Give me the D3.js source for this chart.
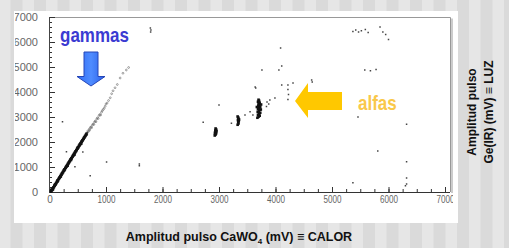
<!DOCTYPE html>
<html>
<head>
<meta charset="utf-8">
<script src="https://cdn.jsdelivr.net/npm/d3@7"></script>
<style>
  body { margin: 0; overflow: hidden; background: #e6e6e6; }
  svg { display: block; font-family: "Liberation Sans", Arial, sans-serif; }
</style>
</head>
<body>
<svg id="chart" width="509" height="248"></svg>
<script>
// tick labels
const xTicks = [0, 1000, 2000, 3000, 4000, 5000, 6000, 7000];
const yTicks = [0, 1000, 2000, 3000, 4000, 5000, 6000, 7000];

// gamma band, dense part (CaWO4 mV, Ge mV)
const gammaDense = [
  [25,20],[32,30],[40,80],[48,85],[55,135],[62,140],[70,190],[78,195],[85,245],[92,250],
  [100,300],[108,305],[115,355],[122,360],[130,410],[138,415],[145,470],[152,465],[160,520],[168,530],
  [175,575],[182,580],[190,630],[198,640],[205,685],[212,690],[220,745],[228,750],[235,795],[242,800],
  [250,850],[258,860],[265,905],[272,910],[280,960],[288,970],[295,1015],[302,1020],[310,1070],[318,1080],
  [325,1125],[332,1130],[340,1180],[348,1190],[355,1235],[362,1240],[370,1295],[378,1300],[385,1345],[392,1350],
  [400,1400],[408,1410],[415,1455],[422,1460],[430,1515],[438,1520],[445,1565],[452,1570],[460,1625],[468,1630],
  [475,1675],[482,1680],[490,1735],[498,1740],[505,1785],[512,1795],[520,1845],[528,1850],[535,1900],[542,1905],
  [550,1950],[558,1960],[565,2010],[572,2015],[580,2060],[588,2070],[596,2120],[604,2125],[612,2175],[620,2190],
  [628,2235],[636,2245],[645,2290],[652,2300],[660,2345],
  [30,70],[60,100],[95,280],[140,440],[200,620],[260,880],[320,1050],[380,1280],[440,1490],[500,1770],[560,1930]
];

// gamma band, sparse tail
const gammaSparse = [
  [672,2390],[680,2450],[694,2430],[705,2520],[712,2480],[725,2580],[738,2610],[745,2570],[760,2680],[772,2720],
  [785,2700],[796,2800],[810,2840],[822,2810],[835,2920],[850,2970],[862,2940],[878,3060],[890,3100],[905,3080],
  [920,3190],[935,3250],[950,3300],[968,3350],[985,3430],[1000,3520],[1020,3560],[1045,3660],[1075,3770],[1100,3930],
  [1125,4050],[1160,4170],[1200,4300],[1250,4560],[1300,4750],[1360,4880],[1400,4980]
];

// alpha clusters
const alphaClusters = [
  [2925,2260],[2940,2300],[2950,2350],[2930,2380],[2945,2420],[2935,2460],[2950,2500],[2940,2540],[2930,2330],[2955,2440],
  [3330,2690],[3345,2740],[3340,2790],[3350,2840],[3335,2880],[3345,2930],[3340,2980],[3330,3020],[3355,2900],
  [3680,2970],[3700,3010],[3720,3050],[3690,3090],[3710,3130],[3730,3170],[3685,3210],[3705,3250],[3725,3290],[3690,3330],
  [3710,3370],[3730,3410],[3695,3450],[3715,3490],[3700,3530],[3720,3570],[3690,3610],[3710,3650],[3700,3690],[3740,3300],
  [3670,3400],[3745,3500]
];

// isolated events
const strayPoints = [
  [1790,6400],[1795,6480],[1785,6560],
  [230,2810],[300,1610],[590,1600],[450,1010],[720,650],[1010,1200],[1590,1050],[1590,1120],
  [2720,2790],[3000,3480],[3220,2750],[3460,3080],[3550,3210],[3600,3080],[3640,4200],[3650,4160],[3760,4880],
  [3840,3420],[3850,3600],[3880,3520],[3900,3680],[3990,3760],[4060,4880],[4090,5760],[4110,5040],[4110,4280],[4220,4280],
  [4220,3700],[4230,3900],[4220,4100],[4310,4360],[4640,4480],[4650,4400],
  [5370,6420],[5420,6480],[5470,6400],[5520,6450],[5590,6500],[5640,6380],[5850,6600],[5900,6400],[5950,6300],[6000,6100],
  [5580,4880],[5680,4850],[5780,4900],[5460,3000],[6320,2710],[5810,1640],[6320,1210],[6320,560],[6320,320],[6300,250],[5370,370]
];

const W = 509, H = 248;
const svg = d3.select("#chart");

// striped background
svg.append("g").selectAll("rect")
  .data(d3.range(-13, W, 23.5))
  .enter().append("rect")
  .attr("x", d => d).attr("y", 0)
  .attr("width", 12).attr("height", H)
  .attr("fill", "#dadada");

// white panel
svg.append("rect")
  .attr("x", 14).attr("y", 11).attr("width", 444).attr("height", 212)
  .attr("fill", "#fff");

svg.append("defs").append("clipPath").attr("id", "panel")
  .append("rect").attr("x", 15).attr("y", 11).attr("width", 438).attr("height", 212);

const g = svg.append("g").attr("clip-path", "url(#panel)");

const x = d3.scaleLinear().domain([0, 7000]).range([49.5, 445]);
const y = d3.scaleLinear().domain([0, 7000]).range([192, 17]);
const fmt = d3.format("d");

// frame (top and right)
g.append("path")
  .attr("d", "M49,17.5H450.5V192")
  .attr("fill", "none").attr("stroke", "#999").attr("stroke-width", 1);
g.append("path")
  .attr("d", "M452,18.5V193")
  .attr("fill", "none").attr("stroke", "#bbb").attr("stroke-width", 1.5);

// minor ticks
const xMinor = g.append("g").attr("transform", "translate(0,192)")
  .call(d3.axisBottom(x).tickValues(d3.range(0, 7001, 250)).tickSize(-3).tickFormat(""));
const yMinor = g.append("g").attr("transform", "translate(49,0)")
  .call(d3.axisLeft(y).tickValues(d3.range(0, 7001, 200)).tickSize(-3).tickFormat(""));
xMinor.select(".domain").remove();
yMinor.select(".domain").remove();

// major ticks + labels
const xAxis = g.append("g").attr("transform", "translate(0,192)")
  .call(d3.axisBottom(x).tickValues(xTicks).tickSize(-5).tickPadding(4).tickFormat(fmt));
const yAxis = g.append("g").attr("transform", "translate(49,0)")
  .call(d3.axisLeft(y).tickValues(yTicks).tickSize(-6).tickPadding(11).tickFormat(fmt));
[xAxis, yAxis, xMinor, yMinor].forEach(a => a.selectAll("line").attr("stroke", "#333"));
xAxis.select(".domain").remove();
yAxis.select(".domain").remove();
xAxis.selectAll("text")
  .attr("fill", "#666").style("font-size", "10px")
  .filter(d => d > 0)
  .attr("textLength", 18).attr("lengthAdjust", "spacingAndGlyphs");
yAxis.selectAll("text").attr("fill", "#666").style("font-size", "11px");

// axis lines
g.append("line").attr("x1", 49).attr("x2", 450).attr("y1", 192.5).attr("y2", 192.5)
  .attr("stroke", "#333");
g.append("line").attr("x1", 49.5).attr("x2", 49.5).attr("y1", 17).attr("y2", 193)
  .attr("stroke", "#444");

// points
g.append("g").selectAll("rect")
  .data(gammaDense.concat(alphaClusters))
  .enter().append("rect")
  .attr("x", d => x(d[0]) - 1.3).attr("y", d => y(d[1]) - 1.3)
  .attr("width", 2.6).attr("height", 2.6)
  .attr("fill", "#111");

g.append("g").selectAll("circle")
  .data(gammaSparse)
  .enter().append("circle")
  .attr("cx", d => x(d[0])).attr("cy", d => y(d[1]))
  .attr("r", 0.9)
  .attr("fill", "none").attr("stroke", "#666").attr("stroke-width", 0.6);

g.append("g").selectAll("rect")
  .data(strayPoints)
  .enter().append("rect")
  .attr("x", d => x(d[0]) - 0.75).attr("y", d => y(d[1]) - 0.75)
  .attr("width", 1.5).attr("height", 1.5)
  .attr("fill", "#444");

// blue arrow (down)
const defs = svg.select("defs");
const bg = defs.append("linearGradient").attr("id", "blueGrad").attr("x1", 0).attr("x2", 1);
bg.append("stop").attr("offset", "0%").attr("stop-color", "#2f6cf5");
bg.append("stop").attr("offset", "50%").attr("stop-color", "#4f8cff");
bg.append("stop").attr("offset", "100%").attr("stop-color", "#2a60e8");
svg.append("path")
  .attr("d", "M84,52H98V76.5H105L91,86L77,76.5H84Z")
  .attr("fill", "url(#blueGrad)").attr("stroke", "#2546b8").attr("stroke-width", 1);

// yellow arrow (left)
svg.append("path")
  .attr("d", "M342,92V110H308V118L295,101L308,83V92Z")
  .attr("fill", "#ffc800");

// annotations
svg.append("text")
  .attr("transform", "translate(60,42) scale(1,1.2)")
  .attr("fill", "#3b3bd2").style("font-size", "17px").style("font-weight", "bold")
  .text("gammas");
svg.append("text")
  .attr("transform", "translate(358,110) scale(1,1.2)")
  .attr("fill", "#f9c84a").style("font-size", "17px").style("font-weight", "bold")
  .text("alfas");

// x title
const xt = svg.append("text")
  .attr("x", 239).attr("y", 241).attr("text-anchor", "middle")
  .style("font-size", "12.5px").style("font-weight", "bold").attr("fill", "#111");
xt.append("tspan").text("Amplitud pulso CaWO");
xt.append("tspan").attr("dy", 3).style("font-size", "8px").text("4");
xt.append("tspan").attr("dy", -3).text(" (mV) \u2261 CALOR");

// right title
const yt = svg.append("text")
  .attr("transform", "translate(0,112) rotate(-90)")
  .attr("text-anchor", "middle")
  .style("font-size", "12px").style("font-weight", "bold").attr("fill", "#111");
yt.append("tspan").attr("x", 0).attr("y", 476).text("Amplitud pulso");
yt.append("tspan").attr("x", 0).attr("y", 493).text("Ge(IR) (mV) \u2261 LUZ");
</script>
</body>
</html>
